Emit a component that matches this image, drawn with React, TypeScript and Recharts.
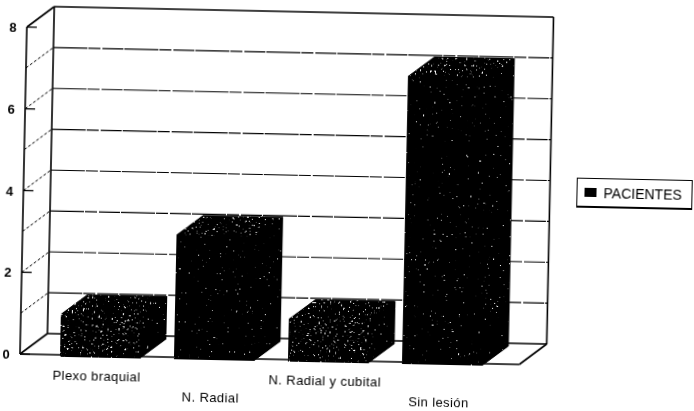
import { BarChart, Bar, XAxis, YAxis, CartesianGrid, Legend } from "recharts";

const categories = ["Plexo braquial", "N. Radial", "N. Radial y cubital", "Sin lesión"];
const pacientes = [1, 3, 1, 7];
const yTicks = [0, 1, 2, 3, 4, 5, 6, 7, 8];

const chartData = categories.map((name, i) => ({ name, PACIENTES: pacientes[i] }));

const FONT = '"Liberation Sans", Arial, sans-serif';
const INK = "#000";
const MARGIN = { top: 27, right: 58, bottom: 0, left: 0 };
const Y_WIDTH = 20;
const X_HEIGHT = 57;
const W = 694;
const H = 411;
const BOTTOM = H - X_HEIGHT;
// depth of the "3d" box and of the bars
const WALL_DX = 27;
const WALL_DY = -21;
const BAR_DX = 26;
const BAR_DY = -20;

function GridLine(props: any) {
  const { x1, x2, y1, index } = props;
  const isTop = Math.abs(y1 - MARGIN.top) < 0.5;
  const isFloor = Math.abs(y1 - BOTTOM) < 0.5;
  const bx1 = x1 + WALL_DX;
  const bx2 = x2 + WALL_DX;
  const by = y1 + WALL_DY;
  const solid = isTop || isFloor;
  return (
    <g>
      <line
        x1={bx1}
        x2={bx2}
        y1={by}
        y2={by}
        stroke={INK}
        strokeWidth={solid ? 1.6 : 1.2}
        strokeDasharray={solid ? undefined : "34 1 12 2 21 1"}
      />
      <line
        x1={x1}
        x2={bx1}
        y1={y1}
        y2={by}
        stroke={INK}
        strokeWidth={solid ? 1.6 : 1}
        strokeDasharray={solid ? undefined : "3 2"}
      />
      {/* the inward tick marks sit on the even values only */}
      {index % 2 === 0 && <line x1={x1} x2={x1 + 10} y1={y1} y2={y1} stroke={INK} strokeWidth={1.3} />}
      {isTop && (
        <>
          <line x1={bx1} x2={bx1} y1={by} y2={BOTTOM + WALL_DY} stroke={INK} strokeWidth={1.6} />
          <line x1={bx2} x2={bx2} y1={by} y2={BOTTOM + WALL_DY} stroke={INK} strokeWidth={1.6} />
        </>
      )}
      {isFloor && <line x1={x2} x2={bx2} y1={y1} y2={by} stroke={INK} strokeWidth={1.6} />}
    </g>
  );
}

function Box3D(props: any) {
  const { x, y, width, height, payload } = props;
  const low = payload.PACIENTES <= 1;
  const r = x + width;
  const b = y + height + 2;
  return (
    <g>
      <path
        d={`M${x},${y} L${x + BAR_DX},${y + BAR_DY} L${r + BAR_DX},${y + BAR_DY} L${r + BAR_DX},${b + BAR_DY} L${r},${b} L${x},${b} Z`}
        fill={INK}
      />
      <path
        d={`M${x},${y} L${x + BAR_DX},${y + BAR_DY} L${r + BAR_DX},${y + BAR_DY} L${r},${y} Z`}
        fill={INK}
        filter="url(#speckDense)"
      />
      <path
        d={`M${r},${y} L${r + BAR_DX},${y + BAR_DY} L${r + BAR_DX},${b + BAR_DY} L${r},${b} Z`}
        fill={INK}
        filter="url(#speckSoft)"
      />
      <rect x={x} y={y} width={width} height={b - y} fill={INK} filter={low ? "url(#speckDense)" : "url(#speckSoft)"} />
    </g>
  );
}

function YTick(props: any) {
  const { y, payload } = props;
  if (payload.value % 2 !== 0) return <g />;
  return (
    <text x={Y_WIDTH - 14} y={y + 5} textAnchor="middle" fontSize={13} fontWeight={700} fill={INK} fontFamily={FONT}>
      {payload.value}
    </text>
  );
}

function XTick(props: any) {
  const { x, payload, index } = props;
  const lift = index % 2 === 0 ? 25 : 44;
  return (
    <text
      x={x - 3}
      y={BOTTOM + lift}
      textAnchor="middle"
      fontSize={13}
      letterSpacing={0.4}
      fill={INK}
      fontFamily={FONT}
    >
      {payload.value}
    </text>
  );
}

function LegendBox() {
  return (
    <div
      style={{
        width: 116,
        height: 30,
        boxSizing: "border-box",
        border: "1.5px solid #000",
        borderBottomWidth: 2,
        display: "flex",
        alignItems: "center",
        paddingLeft: 7,
        fontFamily: FONT,
        fontSize: 14,
        background: "#fff",
      }}
    >
      <span style={{ width: 12, height: 9, background: INK, marginRight: 7, display: "inline-block" }} />
      PACIENTES
    </div>
  );
}

function Filters() {
  const speck = (id: string, slope: number, cut: number) => (
    <filter id={id} x="0" y="0" width="100%" height="100%" colorInterpolationFilters="sRGB">
      <feTurbulence type="fractalNoise" baseFrequency="0.45" numOctaves={2} seed={7} result="n" />
      <feColorMatrix in="n" type="matrix" values={`0 0 0 0 1  0 0 0 0 1  0 0 0 0 1  ${slope} 0 0 0 ${-cut}`} result="dots" />
      <feComposite in="dots" in2="SourceAlpha" operator="in" result="clipped" />
      <feMerge>
        <feMergeNode in="SourceGraphic" />
        <feMergeNode in="clipped" />
      </feMerge>
    </filter>
  );
  return (
    <svg width={0} height={0} style={{ position: "absolute" }}>
      <defs>
        {speck("speckSoft", 14, 10.4)}
        {speck("speckDense", 12, 8)}
      </defs>
    </svg>
  );
}

export default function App() {
  return (
    <div style={{ position: "absolute", left: 0, top: 0, width: W, height: H, overflow: "hidden", background: "#fff" }}>
      <Filters />
      {/* the original is a slightly crooked scan */}
      <div
        style={{
          width: W,
          height: H,
          transform: "rotate(1.2deg)",
          transformOrigin: `${Y_WIDTH}px ${BOTTOM}px`,
          filter: "blur(0.3px)",
        }}
      >
        <BarChart width={W} height={H} data={chartData} margin={MARGIN} barSize={80}>
          <CartesianGrid vertical={false} horizontal={(p: any) => <GridLine key={p.y1} {...p} />} />
          <XAxis
            dataKey="name"
            height={X_HEIGHT}
            interval={0}
            padding={{ left: 23, right: 20 }}
            tickLine={false}
            axisLine={{ stroke: INK, strokeWidth: 1.6 }}
            tick={<XTick />}
          />
          <YAxis
            width={Y_WIDTH}
            domain={[0, 8]}
            ticks={yTicks}
            interval={0}
            tickLine={false}
            axisLine={{ stroke: INK, strokeWidth: 1.6 }}
            tick={<YTick />}
          />
          <Legend
            layout="vertical"
            align="right"
            verticalAlign="top"
            wrapperStyle={{ left: 573, top: 166, width: 116 }}
            content={<LegendBox />}
          />
          <Bar dataKey="PACIENTES" fill={INK} isAnimationActive={false} shape={<Box3D />} />
        </BarChart>
      </div>
    </div>
  );
}
